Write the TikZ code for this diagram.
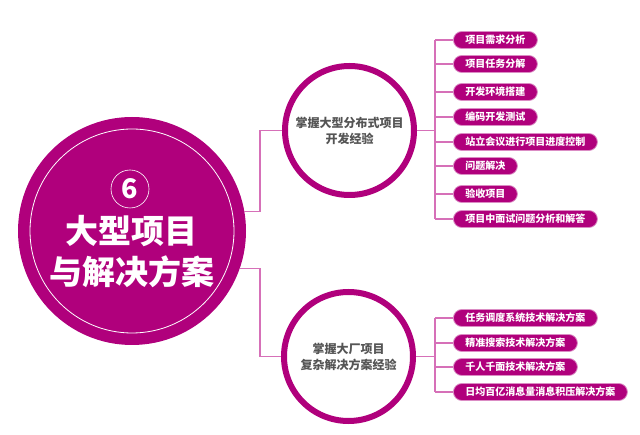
\documentclass[tikz,border=0pt]{standalone}
\usepackage{fontspec}
\setmainfont{Noto Sans CJK SC}
\definecolor{mag}{RGB}{176,0,124}
\definecolor{lnk}{RGB}{214,112,184}
\definecolor{midtxt}{RGB}{85,85,85}
\tikzset{
  pill/.style={anchor=west, fill=mag, draw=mag!45, line width=0.8pt, rounded corners=8.5pt,
    minimum height=17pt, inner xsep=12pt, inner ysep=0pt, text=white,
    font=\fontsize{10pt}{12pt}\selectfont\bfseries},
  midc/.style={circle, draw=mag, fill=white, line width=6pt, inner sep=0pt, minimum size=129pt,
    text=midtxt, align=center, font=\fontsize{12pt}{16pt}\selectfont\bfseries},
  link/.style={draw=lnk, line width=1.2pt},
  title/.style={text=white, font=\fontsize{33pt}{38pt}\selectfont\bfseries, inner sep=0pt}
}
\begin{document}
\begin{tikzpicture}[x=1pt,y=-1pt]
\useasboundingbox[fill=white] (0,0) rectangle (640,435);
% big circle
\node[circle, fill=mag, inner sep=0pt, minimum size=228pt] (big) at (132,231) {};
\node[circle, draw=white, line width=0.8pt, inner sep=0pt, minimum size=204pt] (bigin) at (132,231) {};
\node[circle, draw=white, line width=0.6pt, inner sep=0pt, minimum size=38pt, text=white,
  font=\fontsize{27pt}{30pt}\selectfont\bfseries] (six) at (130,189) {6};
\node[title] (t1) at (131,231) {大型项目};
\node[title] (t2) at (132,272) {与解决方案};
% middle circles
\node[midc] (c1) at (349.5,130.5) {掌握大型分布式项目\\开发经验};
\node[midc] (c2) at (348.5,356.5) {掌握大厂项目\\复杂解决方案经验};
% junction x
\coordinate (jx) at (260,0);
\coordinate (tx) at (435,0);
% pills upper
\node[pill] (p1) at (453,40) {项目需求分析};
\node[pill] (p2) at (453,64) {项目任务分解};
\node[pill] (p3) at (453,92) {开发环境搭建};
\node[pill] (p4) at (453,117) {编码开发测试};
\node[pill] (p5) at (453,142) {站立会议进行项目进度控制};
\node[pill] (p6) at (453,166) {问题解决};
\node[pill] (p7) at (453,194) {验收项目};
\node[pill] (p8) at (453,219) {项目中面试问题分析和解答};
% pills lower
\node[pill] (q1) at (453,318) {任务调度系统技术解决方案};
\node[pill] (q2) at (453,343) {精准搜索技术解决方案};
\node[pill] (q3) at (453,367) {千人千面技术解决方案};
\node[pill] (q4) at (453,392) {日均百亿消息量消息积压解决方案};
% connectors big -> mid
\path[link] (big.10) -- (big.10 -| jx) |- (c1.west);
\path[link] (big.-19) -- (big.-19 -| jx) |- (c2.west);
% mid -> trunk
\path[link] (c1.east) -- (c1.east -| tx);
\path[link] (p1.west -| tx) -- (p8.west -| tx);
\foreach \p in {p1,p2,p3,p4,p5,p6,p7,p8}{\path[link] (\p.west -| tx) -- (\p.west);}
\path[link] (c2.east) -- (c2.east -| tx);
\path[link] (q1.west -| tx) -- (q4.west -| tx);
\foreach \p in {q1,q2,q3,q4}{\path[link] (\p.west -| tx) -- (\p.west);}
\end{tikzpicture}
\end{document}
